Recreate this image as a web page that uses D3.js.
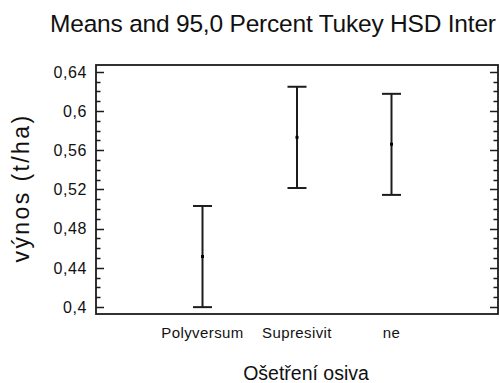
<!DOCTYPE html>
<html>
<head>
<meta charset="utf-8">
<script src="https://cdn.jsdelivr.net/npm/d3@7"></script>
<style>
    body { margin: 0; background: #ffffff; }
    svg { display: block; }
    text { font-family: "Liberation Sans", Arial, sans-serif; fill: #111111; }
</style>
</head>
<body>
<div id="chart"></div>
<script>
// Data
const categories = ["Polyversum", "Supresivit", "ne"];
const means = [0.4515, 0.5731, 0.5661];
const lower = [0.3999, 0.5214, 0.5144];
const upper = [0.5031, 0.6247, 0.6175];
const majorTicks = [0.40, 0.44, 0.48, 0.52, 0.56, 0.60, 0.64];
const minorTicks = d3.range(40, 65).map(d => d / 100);

const width = 499,
    height = 383;
const frame = {left: 96, right: 498, top: 65, bottom: 314};
const ink = "#1c1c1c";

const svg = d3.select("#chart").append("svg")
    .attr("width", width)
    .attr("height", height);

const x = d3.scalePoint()
    .domain(categories)
    .range([frame.left, frame.right])
    .padding(1.127);

const y = d3.scaleLinear()
    .domain([0.3929, 0.6469])
    .range([frame.bottom, frame.top]);

const fmt = v => d3.format("~g")(+v.toFixed(2)).replace(".", ",");

// Title, clipped by the picture edge as in the original
svg.append("text")
    .attr("x", 50)
    .attr("y", 32)
    .attr("font-size", 24.5)
    .attr("textLength", 446)
    .text("Means and 95,0 Percent Tukey HSD Inter");

// Minor and major ticks on left and right sides, pointing inward
const tickG = svg.append("g")
    .attr("stroke", ink)
    .attr("stroke-width", 1.6);
tickG.selectAll(".minor")
    .data(minorTicks.filter(v => !majorTicks.some(m => Math.abs(m - v) < 1e-6)))
    .join("path")
    .attr("d", v => {
        const yy = Math.round(y(v)) + 0.5;
        return "M" + frame.left + "," + yy + "h4.5M" + frame.right + "," + yy + "h-4.5";
    });
tickG.selectAll(".major")
    .data(majorTicks)
    .join("path")
    .attr("d", v => {
        const yy = Math.round(y(v)) + 0.5;
        return "M" + frame.left + "," + yy + "h8M" + frame.right + "," + yy + "h-8";
    });

// Frame
svg.append("rect")
    .attr("x", frame.left)
    .attr("y", frame.top)
    .attr("width", frame.right - frame.left)
    .attr("height", frame.bottom - frame.top)
    .attr("fill", "none")
    .attr("stroke", ink)
    .attr("stroke-width", 1.8);

// Y tick labels
svg.append("g").selectAll("text")
    .data(majorTicks)
    .join("text")
    .attr("x", 87)
    .attr("y", v => y(v))
    .attr("dy", "0.36em")
    .attr("text-anchor", "end")
    .attr("font-size", 16)
    .attr("letter-spacing", 0.6)
    .text(fmt);

// X tick labels
svg.append("g").selectAll("text")
    .data(categories)
    .join("text")
    .attr("x", d => x(d))
    .attr("y", 337.5)
    .attr("text-anchor", "middle")
    .attr("font-size", 15)
    .attr("letter-spacing", 0.4)
    .text(d => d);

// Axis titles
svg.append("text")
    .attr("transform", "translate(28.5,188) rotate(-90)")
    .attr("text-anchor", "middle")
    .attr("font-size", 23)
    .attr("letter-spacing", 2.4)
    .text("výnos (t/ha)");

svg.append("text")
    .attr("x", 306)
    .attr("y", 380)
    .attr("text-anchor", "middle")
    .attr("font-size", 19.5)
    .text("Ošetření osiva");

// Intervals
const bars = svg.append("g")
    .selectAll("g")
    .data(categories)
    .join("g")
    .attr("stroke", ink)
    .attr("stroke-width", 2);

bars.append("line")
    .attr("x1", d => x(d))
    .attr("x2", d => x(d))
    .attr("y1", (d, i) => y(upper[i]))
    .attr("y2", (d, i) => y(lower[i]));
bars.append("line")
    .attr("x1", d => x(d) - 9.5)
    .attr("x2", d => x(d) + 9.5)
    .attr("y1", (d, i) => y(upper[i]))
    .attr("y2", (d, i) => y(upper[i]));
bars.append("line")
    .attr("x1", d => x(d) - 9.5)
    .attr("x2", d => x(d) + 9.5)
    .attr("y1", (d, i) => y(lower[i]))
    .attr("y2", (d, i) => y(lower[i]));

// Means
svg.append("g").selectAll("rect")
    .data(categories)
    .join("rect")
    .attr("x", d => x(d) - 1.5)
    .attr("y", (d, i) => y(means[i]) - 1.5)
    .attr("width", 3)
    .attr("height", 3)
    .attr("fill", "#000000");
</script>
</body>
</html>
